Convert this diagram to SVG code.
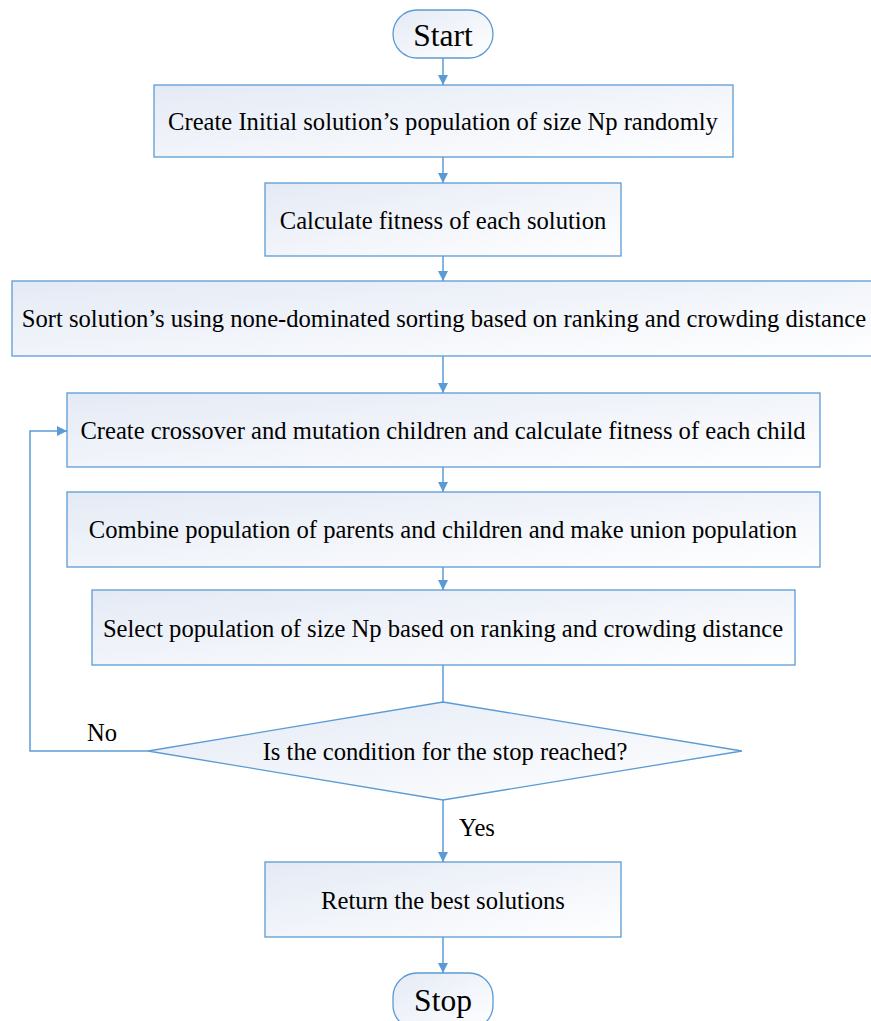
<svg xmlns="http://www.w3.org/2000/svg" width="871" height="1021" viewBox="0 0 871 1021">
<style>
.n{stroke:#5b9bd5;stroke-width:1.3;fill:url(#g)}
.t{font-family:"Liberation Serif","Times New Roman",serif;font-size:24.6px;fill:#000;text-anchor:middle;dominant-baseline:central}
.big{font-size:31.5px}
.c{stroke:#5b9bd5;stroke-width:1.5;fill:none}
</style>
<defs>
<linearGradient id="g" x1="0" y1="0" x2="1" y2="1">
<stop offset="0" stop-color="#e4eaf5"/>
<stop offset="1" stop-color="#ffffff"/>
</linearGradient>
<marker id="a" viewBox="0 0 10 10" refX="10" refY="5" markerWidth="10" markerHeight="10" markerUnits="userSpaceOnUse" orient="auto">
<path d="M0,0 L10,5 L0,10 z" fill="#5b9bd5"/>
</marker>
</defs>
<g id="connectors">
<path class="c" d="M443,58 V85" marker-end="url(#a)"/>
<path class="c" d="M443,157 V183" marker-end="url(#a)"/>
<path class="c" d="M443,256 V281" marker-end="url(#a)"/>
<path class="c" d="M443,356 V393" marker-end="url(#a)"/>
<path class="c" d="M443,467 V492" marker-end="url(#a)"/>
<path class="c" d="M443,567 V590" marker-end="url(#a)"/>
<path class="c" d="M443,665 V702"/>
<path class="c" d="M148,751 H30 V431 H67" marker-end="url(#a)"/>
<path class="c" d="M443,800 V862" marker-end="url(#a)"/>
<path class="c" d="M443,937 V973" marker-end="url(#a)"/>
<text class="t" x="102" y="732">No</text>
<text class="t" x="477" y="827">Yes</text>
</g>
<g id="start">
<rect class="n" x="393" y="10" width="100" height="48" rx="24"/>
<text class="t big" x="443" y="35">Start</text>
</g>
<g id="init">
<rect class="n" x="154" y="85" width="579" height="72"/>
<text class="t" x="443" y="121">Create Initial solution’s population of size Np randomly</text>
</g>
<g id="fitness">
<rect class="n" x="265" y="183" width="356" height="73"/>
<text class="t" x="443" y="220">Calculate fitness of each solution</text>
</g>
<g id="sort">
<rect class="n" x="12" y="281" width="866" height="75"/>
<text class="t" x="444" y="318">Sort solution’s using none-dominated sorting based on ranking and crowding distance</text>
</g>
<g id="crossover">
<rect class="n" x="67" y="393" width="753" height="74"/>
<text class="t" x="443" y="430">Create crossover and mutation children and calculate fitness of each child</text>
</g>
<g id="combine">
<rect class="n" x="67" y="492" width="753" height="75"/>
<text class="t" x="443" y="529">Combine population of parents and children and make union population</text>
</g>
<g id="select">
<rect class="n" x="92" y="590" width="703" height="75"/>
<text class="t" x="443" y="628">Select population of size Np based on ranking and crowding distance</text>
</g>
<g id="decision">
<polygon class="n" points="443,702 742,751 443,800 148,751"/>
<text class="t" x="445" y="751">Is the condition for the stop reached?</text>
</g>
<g id="return">
<rect class="n" x="265" y="862" width="356" height="75"/>
<text class="t" x="443" y="900">Return the best solutions</text>
</g>
<g id="stop">
<rect class="n" x="393" y="973" width="100" height="56" rx="24"/>
<text class="t big" x="443" y="1000">Stop</text>
</g>
</svg>
